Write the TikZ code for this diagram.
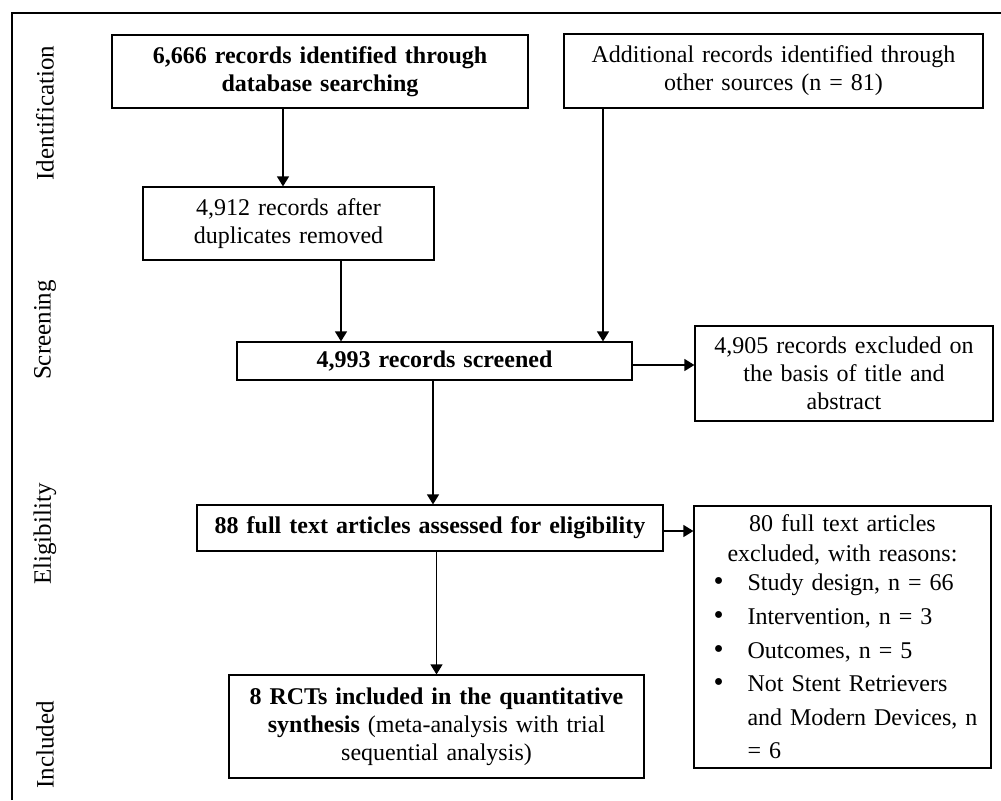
\documentclass[tikz,border=0pt]{standalone}
\usepackage{fontspec}
\setmainfont{Liberation Serif}
\usetikzlibrary{arrows.meta, positioning}
\tikzset{
  box/.style={draw, line width=0.6pt, inner sep=2pt, align=center,
    font=\fontsize{12}{14}\selectfont},
  arr/.style={line width=0.6pt, -{Triangle[length=5pt,width=6pt]}},
  stage/.style={rotate=90, font=\fontsize{12.5}{14}\selectfont},
}
\newcommand{\reason}[1]{\hspace*{7.5pt}\makebox[17pt][l]{\Large\textbullet}#1}
\newcommand{\reasoncont}[1]{\hspace*{24.5pt}#1}

\begin{document}
\begin{tikzpicture}[x=0.5pt, y=-0.5pt]
  \useasboundingbox (0,0) rectangle (1001,800);
  % frame
  \draw[line width=1.1pt] (12,800) -- (12,13) -- (1001,13);

  % stages
  \node[stage] (sident) at (45,113) {Identification};
  \node[stage] (sscreen) at (45,330) {Screening};
  \node[stage] (selig) at (45,534) {Eligibility};
  \node[stage] (sincl) at (45,745) {Included};

  % boxes
  \node[box, minimum width=208pt, minimum height=36.5pt, text width=204pt] (ident) at (320,71.5)
    {\bfseries 6,666 records identified through\\ database searching};
  \node[box, minimum width=209.5pt, minimum height=37pt, text width=205pt] (other) at (773.5,71)
    {Additional records identified through\\ other sources (n = 81)};
  \node[box, minimum width=145.5pt, minimum height=36.5pt, text width=141pt] (dedup) at (288.5,223.5)
    {4,912 records after\\ duplicates removed};
  \node[box, minimum width=197.5pt, minimum height=19pt, text width=193pt] (screen) at (434.5,361)
    {\bfseries 4,993 records screened};
  \node[box, minimum width=149pt, minimum height=47.5pt, text width=145pt] (excl) at (844,373.5)
    {4,905 records excluded on\\ the basis of title and\\ abstract};
  \node[box, minimum width=233pt, minimum height=23pt, text width=229pt] (full) at (430,528)
    {\bfseries 88 full text articles assessed for eligibility};
  \node[box, minimum width=148.5pt, minimum height=131pt, text width=144pt, align=left,
    font=\fontsize{12}{14.8}\selectfont] (fullexcl) at (842.5,637)
    {\makebox[\linewidth][c]{80 full text articles}\\
     \makebox[\linewidth][c]{excluded, with reasons:}\\
     \reason{Study design, n = 66}\\[2pt]
     \reason{Intervention, n = 3}\\[2pt]
     \reason{Outcomes, n = 5}\\[2pt]
     \reason{Not Stent Retrievers}\\[2pt]
     \reasoncont{and Modern Devices, n}\\[2pt]
     \reasoncont{= 6}};
  \node[box, minimum width=207.5pt, minimum height=51.5pt, text width=203pt] (incl) at (436.5,726.5)
    {\textbf{8 RCTs included in the quantitative}\\ \textbf{synthesis} (meta-analysis with trial\\ sequential analysis)};

  % arrows
  \draw[arr] (ident.south -| 283,0) -- (dedup.north -| 283,0);
  \draw[arr] (dedup.south -| 341,0) -- (screen.north -| 341,0);
  \draw[arr] (other.south -| 603,0) -- (screen.north -| 603,0);
  \draw[arr] (screen.east |- 0,365) -- (excl.west |- 0,365);
  \draw[arr] (screen.south -| 433,0) -- (full.north -| 433,0);
  \draw[arr] (full.east |- 0,531) -- (fullexcl.west |- 0,531);
  \draw[arr] (full.south -| incl.north) -- (incl.north);
\end{tikzpicture}
\end{document}
